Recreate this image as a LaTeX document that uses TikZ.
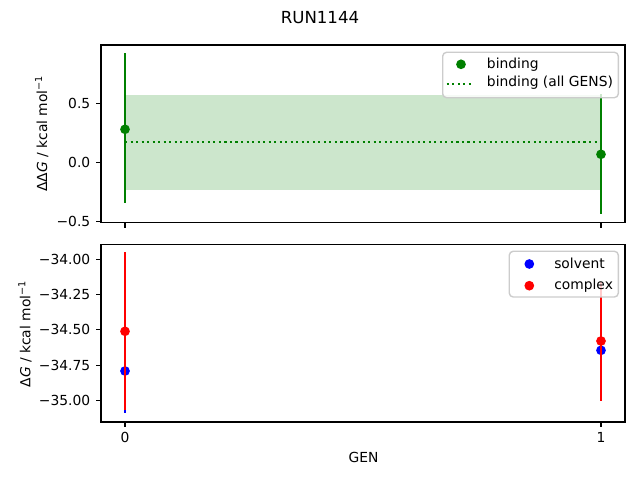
\documentclass[tikz,border=0pt]{standalone}
\usepackage{fontspec}
\setmainfont{DejaVu Sans}
\definecolor{mplgreen}{HTML}{008000}
\definecolor{mplblue}{HTML}{0000FF}
\definecolor{mplred}{HTML}{FF0000}
\definecolor{legendedge}{HTML}{CCCCCC}
\tikzset{
	spine/.style={line width=0.8bp},
	tickmark/.style={line width=0.8bp},
	errbar/.style={line width=1.5bp},
	ticklabel/.style={inner sep=0pt},
	legendbox/.style={draw=legendedge, line width=1bp, fill=white, fill opacity=0.8, rounded corners=2.8bp},
}
\begin{document}
\begin{tikzpicture}[x=0.01in, y=-0.01in]
	\useasboundingbox (0,0) rectangle (640,480);
	\node (title) at (320,17.8) {\fontsize{12}{14}\selectfont RUN1144};
	% top panel
	\fill[mplgreen, opacity=0.2] (125,95) rectangle (601,189.7);
	\draw[mplgreen, errbar, dash pattern=on 1.5bp off 2.475bp] (125,141.7) -- (601,141.7);
	\draw[mplgreen, errbar] (125,53.3) -- (125,203.3);
	\draw[mplgreen, errbar] (601,94.5) -- (601,214);
	\fill[mplgreen] (125,129.3) circle[radius=3.5bp];
	\fill[mplgreen] (601,154.3) circle[radius=3.5bp];
	\draw[spine] (101,45) rectangle (625,222.7);
	\draw[tickmark] (101,103.3) -- (96.1,103.3);
	\draw[tickmark] (101,162.3) -- (96.1,162.3);
	\draw[tickmark] (101,221.5) -- (96.1,221.5);
	\node[ticklabel, anchor=east] (ta) at (90.5,103.3) {0.5};
	\node[ticklabel, anchor=east] (tb) at (90.5,162.3) {0.0};
	\node[ticklabel, anchor=east] (tc) at (90.5,221.5) {−0.5};
	\draw[tickmark] (125,222.7) -- (125,227.6);
	\draw[tickmark] (601,222.7) -- (601,227.6);
	\node[rotate=90] (ylabtop) at (41.7,133.5) {ΔΔ\textit{G} / kcal mol\textsuperscript{−1}};
	\draw[legendbox] (442.7,52.3) rectangle (618.3,97.7);
	\fill[mplgreen] (461,64.3) circle[radius=3.5bp];
	\draw[mplgreen, errbar, dash pattern=on 1.5bp off 2.475bp] (446.7,84) -- (474.3,84);
	\node[ticklabel, anchor=base west] (lbind) at (486.7,69) {binding};
	\node[ticklabel, anchor=base west] (lall) at (486.7,87) {binding (all GENS)};
	% bottom panel
	\draw[mplblue, errbar] (125,328.6) -- (125,412.7);
	\draw[mplblue, errbar] (601,343.3) -- (601,357.3);
	\fill[mplblue] (125,371) circle[radius=3.5bp];
	\fill[mplblue] (601,350.3) circle[radius=3.5bp];
	\draw[mplred, errbar] (125,252.3) -- (125,410.4);
	\draw[mplred, errbar] (601,281.9) -- (601,400.7);
	\fill[mplred] (125,331.3) circle[radius=3.5bp];
	\fill[mplred] (601,341) circle[radius=3.5bp];
	\draw[spine] (101,244.3) rectangle (625,422);
	\draw[tickmark] (101,259.3) -- (96.1,259.3);
	\draw[tickmark] (101,294.6) -- (96.1,294.6);
	\draw[tickmark] (101,329.8) -- (96.1,329.8);
	\draw[tickmark] (101,365.1) -- (96.1,365.1);
	\draw[tickmark] (101,400.3) -- (96.1,400.3);
	\node[ticklabel, anchor=east] (td) at (90.5,259.3) {−34.00};
	\node[ticklabel, anchor=east] (te) at (90.5,294.6) {−34.25};
	\node[ticklabel, anchor=east] (tf) at (90.5,329.8) {−34.50};
	\node[ticklabel, anchor=east] (tg) at (90.5,365.1) {−34.75};
	\node[ticklabel, anchor=east] (th) at (90.5,400.3) {−35.00};
	\draw[tickmark] (125,422) -- (125,426.9);
	\draw[tickmark] (601,422) -- (601,426.9);
	\node[ticklabel, anchor=north] (gen0) at (125,431.7) {0};
	\node[ticklabel, anchor=north] (gen1) at (601,431.7) {1};
	\node[ticklabel, anchor=base] (xlab) at (363.6,462.3) {GEN};
	\node[rotate=90] (ylabbot) at (25,334) {Δ\textit{G} / kcal mol\textsuperscript{−1}};
	\draw[legendbox] (509.3,251.3) rectangle (618.3,297);
	\fill[mplblue] (529.3,264) circle[radius=3.5bp];
	\fill[mplred] (529.3,285.7) circle[radius=3.5bp];
	\node[ticklabel, anchor=base west] (lsolv) at (554,268.3) {solvent};
	\node[ticklabel, anchor=base west] (lcomp) at (554,290) {complex};
\end{tikzpicture}
\end{document}
